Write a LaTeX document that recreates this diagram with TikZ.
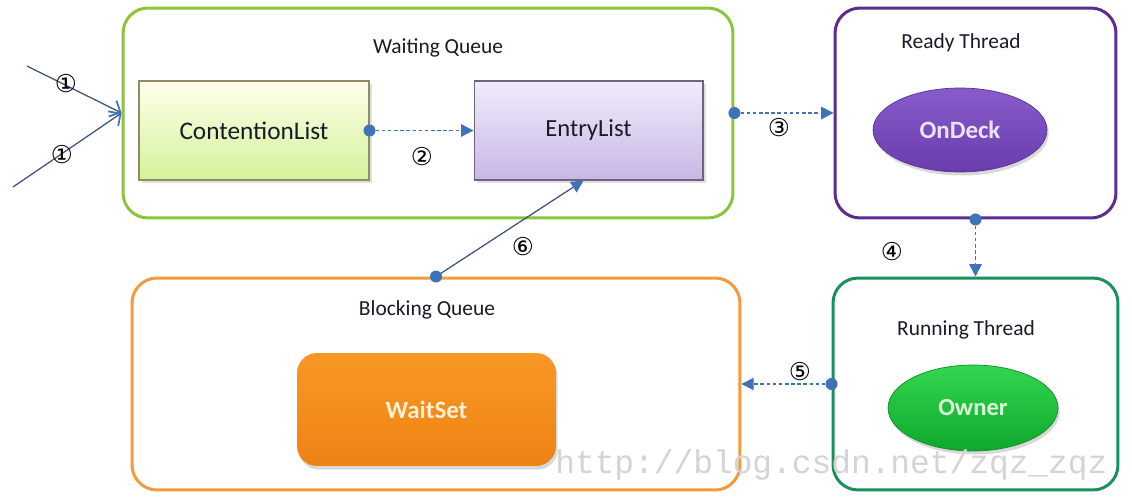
\documentclass[tikz,border=0pt]{standalone}
\usepackage{fontspec}
\setmainfont{Carlito}
\newfontfamily\symfont{DejaVu Sans}
\newfontfamily\wmfont{Liberation Mono}
\usetikzlibrary{arrows.meta,shapes.geometric,shadows}
\definecolor{wqgreen}{HTML}{8CC43C}
\definecolor{rdpurple}{HTML}{5C2D91}
\definecolor{rngreen}{HTML}{17925A}
\definecolor{bqorange}{HTML}{F39A3A}
\definecolor{arrblue}{HTML}{3F72B8}
\definecolor{inline}{HTML}{3D4F7C}
\definecolor{txt}{HTML}{1A1A2A}
\tikzset{
  container/.style={draw, line width=1.7pt, rounded corners=0.5cm, inner sep=0pt},
  grouplabel/.style={font=\fontsize{12.2}{14}\selectfont, text=txt},
  listbox/.style={draw, line width=0.6pt, inner sep=0pt, minimum width=4.6cm, minimum height=1.98cm,
    text=txt, drop shadow={opacity=0.25, shadow xshift=1.5pt, shadow yshift=-1.5pt}},
  oval/.style={ellipse, inner sep=0pt, font=\bfseries\fontsize{14.2}{16}\selectfont,
    drop shadow={opacity=0.3, shadow xshift=1pt, shadow yshift=-2pt}},
  flow/.style={arrblue, line width=0.8pt, dash pattern=on 2pt off 1.5pt, -{Triangle[length=7pt,width=7pt]}},
  dot/.style={fill=arrblue},
  num/.style={font=\symfont\fontsize{14}{15}\selectfont, text=black, inner sep=0pt},
}
\begin{document}
\begin{tikzpicture}[x=0.02cm, y=-0.02cm]
\useasboundingbox[fill=white] (0,0) rectangle (1132,500);
% containers
\node[container, draw=wqgreen, minimum width=12.2cm, minimum height=4.2cm] (wq) at (428,113) {};
\node[container, draw=rdpurple, minimum width=5.62cm, minimum height=4.2cm] (rd) at (975.5,113) {};
\node[container, draw=rngreen, minimum width=5.7cm, minimum height=4.24cm] (rn) at (975.5,384) {};
\node[container, draw=bqorange, minimum width=12.16cm, minimum height=4.24cm] (bq) at (436,384) {};
% group labels
\node[grouplabel] (wqlabel) at (438,48) {Waiting Queue};
\node[grouplabel] (rdlabel) at (961,43) {Ready Thread};
\node[grouplabel] (rnlabel) at (966,330) {Running Thread};
\node[grouplabel] (bqlabel) at (427,310) {Blocking Queue};
% inner nodes
\node[listbox, font=\fontsize{14.4}{16}\selectfont, draw=gray!70!olive, top color=green!6!yellow!8, bottom color={rgb,255:red,212;green,242;blue,154}] (cl) at (254,130.5) {ContentionList};
\node[listbox, font=\fontsize{14}{16}\selectfont, draw={rgb,255:red,110;green,100;blue,128}, top color={rgb,255:red,240;green,236;blue,250}, bottom color={rgb,255:red,200;green,183;blue,230}, minimum width=4.58cm] (el) at (588.5,130.5) {EntryList};
\node[oval, top color={rgb,255:red,136;green,92;blue,202}, bottom color={rgb,255:red,104;green,60;blue,172}, draw={rgb,255:red,90;green,50;blue,150}, line width=0.4pt, minimum width=3.48cm, minimum height=1.68cm, text={rgb,255:red,236;green,226;blue,248}] (od) at (960,130) {OnDeck};
\node[oval, font=\bfseries\fontsize{14}{16}\selectfont, top color={rgb,255:red,50;green,214;blue,80}, bottom color={rgb,255:red,14;green,168;blue,44}, draw={rgb,255:red,20;green,140;blue,40}, line width=0.4pt, minimum width=3.4cm, minimum height=1.72cm, text={rgb,255:red,220;green,246;blue,214}] (ow) at (973,408) {Owner};
\node[rounded corners=0.4cm, inner sep=0pt, top color={rgb,255:red,248;green,152;blue,36}, bottom color={rgb,255:red,238;green,130;blue,20}, minimum width=5.18cm, minimum height=2.26cm, font=\bfseries\fontsize{14.2}{16}\selectfont, text={rgb,255:red,255;green,240;blue,214}, drop shadow={opacity=0.3, shadow xshift=1pt, shadow yshift=-2pt}] (ws) at (426.5,409.5) {WaitSet};
% incoming arrows 1
\coordinate (in1) at (27,66);
\coordinate (in2) at (13,187);
\draw[inline, line width=0.7pt, -{Straight Barb[length=5pt,width=10pt,color=arrblue,line width=1pt]}] (in1) -- (wq.west);
\draw[inline, line width=0.7pt, -{Straight Barb[length=5pt,width=10pt,color=arrblue,line width=1pt]}] (in2) -- (wq.west);
\node[num] (n1a) at (66,84) {①};
\node[num] (n1b) at (62,155) {①};
% flows
\draw[flow] (cl.east) -- (el.west);
\fill[dot] (cl.east) circle (6);
\node[num] (n2) at (422,157) {②};
\draw[flow] (wq.east) -- (rd.west);
\fill[dot] (wq.east) circle (6);
\node[num] (n3) at (779,128) {③};
\draw[flow] (rd.south) -- (rn.north);
\fill[dot] (rd.south) circle (6);
\node[num] (n4) at (892,252) {④};
\draw[flow] (rn.west) -- (bq.east);
\fill[dot] (rn.west) circle (6);
\node[num] (n5) at (800,372) {⑤};
\draw[inline, line width=0.7pt, -{Triangle[length=7pt,width=7pt,color=arrblue]}] (bq.north) -- ([xshift=-0.1cm]el.south);
\fill[dot] (bq.north) circle (6);
\node[num] (n6) at (523,247) {⑥};
% watermark
\node[anchor=base west, inner sep=0pt, font=\wmfont\fontsize{18.7}{20}\selectfont, text=black!17] (wm) at (555,473) {http://blog.csdn.net/zqz\_zqz};
\end{tikzpicture}
\end{document}
